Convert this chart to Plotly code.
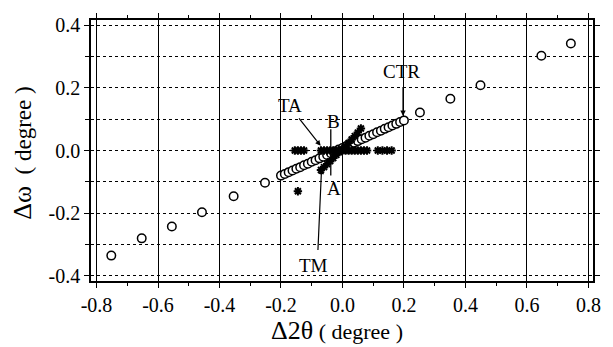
import plotly.graph_objects as go

# open circles: sparse wide points and dense central scan
circ_x = [-0.752, -0.653, -0.555, -0.457, -0.354, -0.252,
          -0.2000, -0.1875, -0.1750, -0.1625, -0.1500, -0.1375, -0.1250, -0.1125,
          -0.1000, -0.0875, -0.0750, -0.0625, -0.0500, -0.0375, -0.0250, -0.0125,
          0.0000, 0.0125, 0.0250, 0.0375, 0.0500, 0.0625, 0.0750, 0.0875,
          0.1000, 0.1125, 0.1250, 0.1375, 0.1500, 0.1625, 0.1750, 0.1875, 0.2000,
          0.252, 0.351, 0.449, 0.647, 0.743]
circ_y = [-0.335, -0.280, -0.242, -0.197, -0.146, -0.103,
          -0.080, -0.075, -0.069, -0.064, -0.058, -0.053, -0.047, -0.042,
          -0.036, -0.031, -0.025, -0.020, -0.014, -0.009, -0.003, 0.003,
          0.008, 0.014, 0.019, 0.025, 0.030, 0.036, 0.041, 0.047,
          0.052, 0.058, 0.063, 0.069, 0.074, 0.080, 0.085, 0.091, 0.096,
          0.121, 0.165, 0.208, 0.302, 0.341]

# stars along omega = 0 (2theta scan)
ta_x = [-0.155, -0.145, -0.135, -0.125,
        -0.07, -0.06, -0.05, -0.04, -0.03, -0.02, -0.01, 0.0,
        0.01, 0.02, 0.03, 0.04, 0.05, 0.06, 0.07, 0.08,
        0.115, 0.13, 0.145, 0.16]
ta_y = [0.0] * len(ta_x)

# stars along diagonal
tm_x = [-0.145, -0.07, -0.06, -0.05, -0.04, -0.03, -0.02, -0.01, 0.0,
        0.01, 0.02, 0.03, 0.04, 0.05, 0.06]
tm_y = [-0.130, -0.062, -0.053, -0.043, -0.034, -0.024, -0.014, -0.005, 0.004,
        0.014, 0.024, 0.035, 0.046, 0.057, 0.070]

x_ticks = [-0.8, -0.6, -0.4, -0.2, 0.0, 0.2, 0.4, 0.6, 0.8]
y_ticks = [-0.4, -0.2, 0.0, 0.2, 0.4]

FONT = "Liberation Serif"
TICKFONT = dict(family=FONT, size=20, color="black")

fig = go.Figure()
fig.add_trace(go.Scatter(x=circ_x, y=circ_y, mode="markers",
                         marker=dict(symbol="circle", size=8.5, color="white",
                                     line=dict(color="black", width=1.5)),
                         showlegend=False))
fig.add_trace(go.Scatter(x=ta_x, y=ta_y, mode="markers",
                         marker=dict(symbol="asterisk-open", size=7, color="black",
                                     line=dict(color="black", width=2)),
                         showlegend=False))
fig.add_trace(go.Scatter(x=tm_x, y=tm_y, mode="markers",
                         marker=dict(symbol="asterisk-open", size=7, color="black",
                                     line=dict(color="black", width=2)),
                         showlegend=False))

# vertical A-B line
fig.add_shape(type="line", x0=-0.038, x1=-0.038, y0=0.068, y1=-0.08,
              line=dict(color="black", width=1.3))

lab_font = dict(family=FONT, size=19, color="black")
labels = [("TA", -0.172, 0.144), ("B", -0.03, 0.093), ("A", -0.027, -0.122),
          ("TM", -0.093, -0.368), ("CTR", 0.193, 0.252)]
for t, xx, yy in labels:
    fig.add_annotation(x=xx, y=yy, text=t, showarrow=False, font=lab_font,
                       xanchor="center", yanchor="middle")

arrows = [(-0.071, 0.015, -0.145, 0.107),
          (-0.068, -0.058, -0.080, -0.322),
          (0.197, 0.110, 0.197, 0.207)]
for xx, yy, axx, ayy in arrows:
    fig.add_annotation(x=xx, y=yy, ax=axx, ay=ayy, axref="x", ayref="y",
                       text="", showarrow=True, arrowhead=2, arrowsize=0.9,
                       arrowwidth=1.2, arrowcolor="black")

# axis titles
fig.add_annotation(xref="paper", yref="paper", x=0.49, y=-0.19,
                   text="Δ2θ<span style='font-size:22px'> ( degree )</span>",
                   showarrow=False, font=dict(family=FONT, size=26, color="black"),
                   xanchor="center", yanchor="middle")
fig.add_annotation(xref="paper", yref="paper", x=-0.138, y=0.49,
                   text="Δω<span style='font-size:23px'>  ( degree )</span>",
                   showarrow=False, textangle=-90,
                   font=dict(family=FONT, size=26, color="black"),
                   xanchor="center", yanchor="middle")

fig.update_layout(
    width=613, height=347,
    margin=dict(l=91, r=16, t=20, b=66),
    paper_bgcolor="white", plot_bgcolor="white",
    font=dict(family=FONT, size=20, color="black"),
    xaxis=dict(range=[-0.818, 0.815], tickmode="array", tickvals=x_ticks,
               ticktext=[f"{v:.1f}" for v in x_ticks],
               ticks="outside", ticklen=5, tickwidth=1.2, tickcolor="black",
               showline=True, linewidth=1.5, linecolor="black", mirror="ticks",
               showgrid=True, gridcolor="black", gridwidth=1,
               zeroline=False, tickfont=TICKFONT,
               minor=dict(dtick=0.1, ticks="outside", ticklen=3,
                          tickcolor="black", showgrid=False)),
    yaxis=dict(range=[-0.416, 0.416], tickmode="array", tickvals=y_ticks,
               ticktext=[f"{v:.1f}" for v in y_ticks],
               ticks="outside", ticklen=5, tickwidth=1.2, tickcolor="black",
               showline=True, linewidth=1.5, linecolor="black", mirror="ticks",
               showgrid=True, gridcolor="black", gridwidth=1, griddash="dot",
               zeroline=False, tickfont=TICKFONT,
               minor=dict(dtick=0.1, tick0=0, ticks="outside", ticklen=4,
                          tickcolor="black", showgrid=True, gridcolor="black",
                          gridwidth=1, griddash="dot")),
)

fig.write_html("out.html")
